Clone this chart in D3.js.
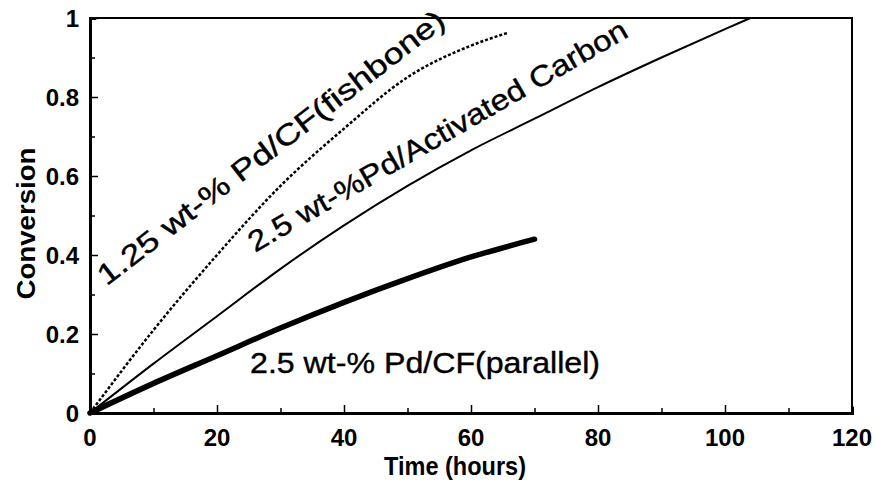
<!DOCTYPE html>
<html>
<head>
<meta charset="utf-8">
<script src="https://cdn.jsdelivr.net/npm/d3@7"></script>
<style>
  html, body { margin: 0; padding: 0; background: #fff; }
  svg { display: block; font-family: "Liberation Sans", Arial, Helvetica, sans-serif; }
</style>
</head>
<body>
<div id="chart"></div>
<script>
// time (hours) and conversion
const fishboneTime = [0, 10, 20, 30, 40, 50, 60, 65.7];
const fishboneConv = [0, 0.21, 0.40, 0.575, 0.72, 0.85, 0.93, 0.962];

const carbonTime = [0, 10, 20, 30, 40, 50, 60, 70, 80, 90, 100, 104];
const carbonConv = [0, 0.125, 0.245, 0.365, 0.475, 0.575, 0.665, 0.745, 0.825, 0.9, 0.972, 1.0];

const parallelTime = [0, 10, 20, 30, 40, 50, 60, 70];
const parallelConv = [0, 0.075, 0.145, 0.215, 0.28, 0.34, 0.395, 0.44];

const xTicks = [0, 20, 40, 60, 80, 100, 120];
const yTicks = [0, 0.2, 0.4, 0.6, 0.8, 1];
const yTickLabels = ["0", "0.2", "0.4", "0.6", "0.8", "1"];

const labelText = ["1.25 wt-% Pd/CF(fishbone)", "2.5 wt-%Pd/Activated Carbon", "2.5 wt-% Pd/CF(parallel)"];
const labelTime = [2.6, 26, 25.2];
const labelConv = [0.32, 0.406, 0.101];
const labelAngle = [-37.6, -30, 0];

const width = 876, height = 482;
const margin = { top: 18, right: 24, bottom: 69, left: 90 };

const svg = d3.select("#chart").append("svg")
  .attr("width", width)
  .attr("height", height);

const x = d3.scaleLinear().domain([0, 120]).range([margin.left, width - margin.right]);
const y = d3.scaleLinear().domain([0, 1]).range([height - margin.bottom, margin.top]);

// frame
svg.append("rect")
  .attr("x", x(0)).attr("y", y(1))
  .attr("width", x(120) - x(0)).attr("height", y(0) - y(1))
  .attr("fill", "none").attr("stroke", "#000").attr("stroke-width", 2);

// inward ticks
const xAxis = svg.append("g").attr("transform", `translate(0,${y(0)})`);
xAxis.call(d3.axisBottom(x).tickValues(d3.range(0, 121, 10)).tickSize(-6).tickFormat(""));
xAxis.selectAll(".tick line").attr("y2", d => d % 20 === 0 ? -8 : -5).attr("stroke-width", 1.5);
xAxis.select(".domain").attr("stroke-width", 3);

const yAxis = svg.append("g").attr("transform", `translate(${x(0)},0)`);
yAxis.call(d3.axisLeft(y).tickValues(d3.range(0, 11).map(i => i / 10)).tickSize(-6).tickFormat(""));
yAxis.selectAll(".tick line").attr("x2", (d, i) => i % 2 === 0 ? 8 : 5).attr("stroke-width", 1.5);
yAxis.select(".domain").attr("stroke-width", 3);

// tick labels
svg.append("g").selectAll("text")
  .data(xTicks)
  .join("text")
  .attr("x", d => x(d))
  .attr("y", y(0) + 33)
  .attr("text-anchor", "middle")
  .attr("font-size", 24)
  .attr("font-weight", "bold")
  .text(d => d);

svg.append("g").selectAll("text")
  .data(yTicks)
  .join("text")
  .attr("x", x(0) - 11)
  .attr("y", d => y(d) + 9)
  .attr("text-anchor", "end")
  .attr("font-size", 24)
  .attr("font-weight", "bold")
  .text((d, i) => yTickLabels[i]);

// axis titles
svg.append("text")
  .attr("x", 455)
  .attr("y", 475)
  .attr("text-anchor", "middle")
  .attr("font-size", 25)
  .attr("font-weight", "bold")
  .attr("textLength", 142)
  .attr("lengthAdjust", "spacingAndGlyphs")
  .text("Time (hours)");

svg.append("text")
  .attr("transform", `translate(35,${(y(0) + y(1)) / 2 + 8}) rotate(-90)`)
  .attr("text-anchor", "middle")
  .attr("font-size", 26)
  .attr("font-weight", "bold")
  .attr("textLength", 152)
  .attr("lengthAdjust", "spacingAndGlyphs")
  .text("Conversion");

// curves
const line = d3.line()
  .x(d => x(d[0]))
  .y(d => y(d[1]))
  .curve(d3.curveMonotoneX);

svg.append("path")
  .attr("d", line(d3.zip(fishboneTime, fishboneConv)))
  .attr("fill", "none").attr("stroke", "#000")
  .attr("stroke-width", 2.5).attr("stroke-dasharray", "3,2");

svg.append("path")
  .attr("d", line(d3.zip(carbonTime, carbonConv)))
  .attr("fill", "none").attr("stroke", "#000")
  .attr("stroke-width", 2);

svg.append("path")
  .attr("d", line(d3.zip(parallelTime, parallelConv)))
  .attr("fill", "none").attr("stroke", "#000")
  .attr("stroke-width", 5.5).attr("stroke-linecap", "round");

// curve labels
const labelLength = [430, 433, 350];
svg.append("g").selectAll("text")
  .data(labelText)
  .join("text")
  .attr("transform", (d, i) => `translate(${x(labelTime[i])},${y(labelConv[i])}) rotate(${labelAngle[i]})`)
  .attr("font-size", 29)
  .attr("stroke", "#000")
  .attr("stroke-width", 0.4)
  .attr("textLength", (d, i) => labelLength[i])
  .attr("lengthAdjust", "spacingAndGlyphs")
  .text(d => d);
</script>
</body>
</html>
